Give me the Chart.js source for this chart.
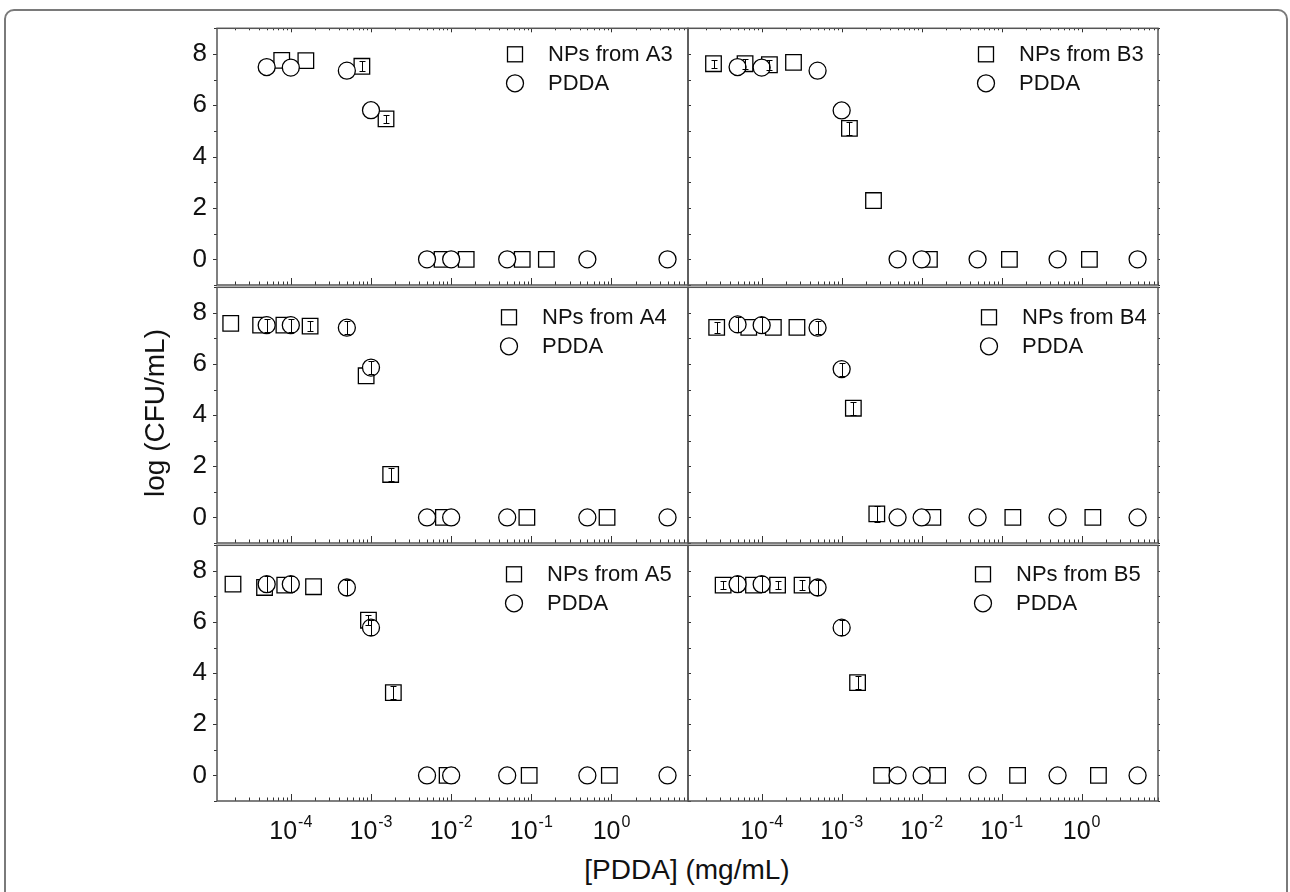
<!DOCTYPE html>
<html>
<head>
<meta charset="utf-8">
<script src="https://cdn.jsdelivr.net/npm/chart.js@4.4.1/dist/chart.umd.min.js"></script>
<style>
body{margin:0;background:#fff;width:1290px;height:892px;overflow:hidden;position:relative;font-family:"Liberation Sans",Arial,sans-serif}
#frame{position:absolute;left:4px;top:9px;width:1284px;height:900px;border:2px solid #7a7a7a;border-radius:10px;box-sizing:border-box}
canvas{position:absolute}
.ttl{position:absolute;font-size:28px;color:#111;white-space:nowrap;line-height:1}
#ytitle{left:155px;top:413px;transform:translate(-50%,-50%) rotate(-90deg)}
#xtitle{left:687px;top:870px;transform:translate(-50%,-50%)}
</style>
</head>
<body>
<div id="frame"></div>
<div id="wrap"></div>
<div class="ttl" id="ytitle">log (CFU/mL)</div>
<div class="ttl" id="xtitle">[PDDA] (mg/mL)</div>
<script>
// axis ranges / ticks
var xMin = 1.2e-5, xMax = 9;
var yMin = -1, yMax = 9;
var yTicks = [0, 2, 4, 6, 8];
var xDecades = [-4, -3, -2, -1, 0];

// PDDA alone (circles), same concentrations in every panel
var pddaX = [5e-5, 1e-4, 5e-4, 1e-3, 5e-3, 1e-2, 5e-2, 5e-1, 5];

// NPs from A3
var a3X = [7.7e-5, 1.54e-4, 7.7e-4, 1.54e-3, 7.7e-3, 1.54e-2, 7.7e-2, 1.54e-1];
var a3Y = [7.75, 7.74, 7.52, 5.47, 0, 0, 0, 0];
var a3Err = [0, 0, 0.2, 0.15, 0, 0, 0, 0];
var a3PddaY = [7.49, 7.47, 7.35, 5.81, 0, 0, 0, 0, 0];
var a3PddaErr = [0, 0, 0, 0, 0, 0, 0, 0, 0];

// NPs from B3
var b3X = [2.5e-5, 6.2e-5, 1.25e-4, 2.5e-4, 1.25e-3, 2.5e-3, 1.25e-2, 1.25e-1, 1.25];
var b3Y = [7.62, 7.62, 7.58, 7.67, 5.10, 2.29, 0, 0, 0];
var b3Err = [0.15, 0.2, 0.2, 0, 0.25, 0, 0, 0, 0];
var b3PddaY = [7.49, 7.47, 7.35, 5.80, 0, 0, 0, 0, 0];
var b3PddaErr = [0, 0, 0, 0, 0, 0, 0, 0, 0];

// NPs from A4
var a4X = [1.78e-5, 4.2e-5, 8.2e-5, 1.74e-4, 8.7e-4, 1.76e-3, 8.0e-3, 8.8e-2, 0.88];
var a4Y = [7.59, 7.52, 7.52, 7.48, 5.54, 1.68, 0, 0, 0];
var a4Err = [0, 0, 0, 0.2, 0, 0.25, 0, 0, 0];
var a4PddaY = [7.52, 7.52, 7.42, 5.86, 0, 0, 0, 0, 0];
var a4PddaErr = [0.25, 0.25, 0.25, 0.25, 0, 0, 0, 0, 0];

// NPs from B4
var b4X = [2.74e-5, 6.9e-5, 1.4e-4, 2.76e-4, 1.4e-3, 2.75e-3, 1.38e-2, 1.38e-1, 1.38];
var b4Y = [7.43, 7.43, 7.43, 7.43, 4.27, 0.14, 0, 0, 0];
var b4Err = [0.2, 0, 0, 0, 0.25, 0.3, 0, 0, 0];
var b4PddaY = [7.55, 7.52, 7.42, 5.80, 0, 0, 0, 0, 0];
var b4PddaErr = [0.3, 0.3, 0.25, 0.25, 0, 0, 0, 0, 0];

// NPs from A5
var a5X = [1.9e-5, 4.7e-5, 8.4e-5, 1.92e-4, 9.3e-4, 1.9e-3, 8.9e-3, 9.4e-2, 0.94];
var a5Y = [7.48, 7.35, 7.44, 7.38, 6.07, 3.24, 0, 0, 0];
var a5Err = [0, 0, 0, 0, 0.2, 0.25, 0, 0, 0];
var a5PddaY = [7.48, 7.48, 7.35, 5.78, 0, 0, 0, 0, 0];
var a5PddaErr = [0.3, 0.3, 0.3, 0.3, 0, 0, 0, 0, 0];

// NPs from B5
var b5X = [3.3e-5, 7.9e-5, 1.58e-4, 3.2e-4, 1.58e-3, 3.16e-3, 1.58e-2, 0.158, 1.62];
var b5Y = [7.44, 7.44, 7.44, 7.44, 3.63, 0, 0, 0, 0];
var b5Err = [0.15, 0, 0.15, 0.2, 0.25, 0, 0, 0, 0];
var b5PddaY = [7.48, 7.48, 7.35, 5.78, 0, 0, 0, 0, 0];
var b5PddaErr = [0.3, 0.3, 0.3, 0.3, 0, 0, 0, 0, 0];

var FONT = '"Liberation Sans", Arial, sans-serif';

// panel grid (page px)
var cols = [{left: 217, w: 471}, {left: 688, w: 470}];
var rows = [{top: 26, h: 259}, {top: 285, h: 258}, {top: 543, h: 258}];

var panels = [
  {name: 'A3', row: 0, col: 0, x: a3X, y: a3Y, err: a3Err, py: a3PddaY, perr: a3PddaErr, lx: 298, ly: 26},
  {name: 'B3', row: 0, col: 1, x: b3X, y: b3Y, err: b3Err, py: b3PddaY, perr: b3PddaErr, lx: 298, ly: 26},
  {name: 'A4', row: 1, col: 0, x: a4X, y: a4Y, err: a4Err, py: a4PddaY, perr: a4PddaErr, lx: 292, ly: 30},
  {name: 'B4', row: 1, col: 1, x: b4X, y: b4Y, err: b4Err, py: b4PddaY, perr: b4PddaErr, lx: 301, ly: 30},
  {name: 'A5', row: 2, col: 0, x: a5X, y: a5Y, err: a5Err, py: a5PddaY, perr: a5PddaErr, lx: 297, ly: 29},
  {name: 'B5', row: 2, col: 1, x: b5X, y: b5Y, err: b5Err, py: b5PddaY, perr: b5PddaErr, lx: 295, ly: 29}
];

function pts(xs, ys) {
  return xs.map(function (v, i) { return {x: v, y: ys[i]}; });
}

function line(ctx, x1, y1, x2, y2) {
  ctx.beginPath();
  ctx.moveTo(x1, y1);
  ctx.lineTo(x2, y2);
  ctx.stroke();
}

var panelDeco = {
  id: 'panelDeco',
  afterDatasetsDraw: function (chart) {
    var ctx = chart.ctx, xs = chart.scales.x, ys = chart.scales.y;
    ctx.save();
    ctx.strokeStyle = '#000';
    ctx.lineWidth = 1;
    chart.data.datasets.forEach(function (ds) {
      (ds.err || []).forEach(function (e, i) {
        if (!e) return;
        var p = ds.data[i];
        var px = Math.round(xs.getPixelForValue(p.x)) + 0.5;
        var y1 = Math.round(ys.getPixelForValue(p.y + e)) + 0.5;
        var y2 = Math.round(ys.getPixelForValue(p.y - e)) + 0.5;
        line(ctx, px, y1, px, y2);
        line(ctx, px - 3, y1, px + 3, y1);
        line(ctx, px - 3, y2, px + 3, y2);
      });
    });
    ctx.restore();
  },
  afterDraw: function (chart, args, opts) {
    var ctx = chart.ctx, a = chart.chartArea, xs = chart.scales.x, ys = chart.scales.y;
    ctx.save();
    // ticks
    ctx.strokeStyle = '#333';
    ctx.lineWidth = 1;
    for (var e = Math.floor(Math.log10(xMin)); e <= Math.ceil(Math.log10(xMax)); e++) {
      for (var m = 1; m <= 9; m++) {
        var v = m * Math.pow(10, e);
        if (v < xMin || v > xMax) continue;
        var px = Math.round(xs.getPixelForValue(v)) + 0.5;
        line(ctx, px, a.bottom, px, a.bottom - (m === 1 ? 7 : 3.5));
        if (opts.topTicks) line(ctx, px, a.top, px, a.top + (m === 1 ? 4 : 2));
      }
    }
    for (var t = yMin; t <= yMax; t++) {
      var py = Math.round(ys.getPixelForValue(t)) + 0.5;
      if (opts.left) {
        line(ctx, a.left, py, a.left - (t % 2 === 0 ? 4 : 3), py);
      } else {
        line(ctx, a.left, py, a.left + 3, py);
        line(ctx, a.right, py, a.right + 2, py);
      }
    }
    // frame
    ctx.strokeStyle = '#555';
    ctx.lineWidth = 1.5;
    ctx.strokeRect(a.left, a.top, a.right - a.left, a.bottom - a.top);

    // legend
    var lx = a.left + opts.lx, ly = a.top + opts.ly;
    ctx.strokeStyle = '#000';
    ctx.lineWidth = 1.3;
    ctx.strokeRect(lx - 7.5, ly - 7.5, 15, 15);
    ctx.beginPath();
    ctx.arc(lx, ly + 29, 8.5, 0, Math.PI * 2);
    ctx.stroke();
    ctx.fillStyle = '#111';
    ctx.font = '22px ' + FONT;
    ctx.textBaseline = 'middle';
    ctx.textAlign = 'left';
    ctx.fillText('NPs from ' + opts.name, lx + 33, ly + 1);
    ctx.fillText('PDDA', lx + 33, ly + 30);

    // x tick labels 10^n
    if (opts.xLabels) {
      ctx.textBaseline = 'alphabetic';
      xDecades.forEach(function (d) {
        var cx = xs.getPixelForValue(Math.pow(10, d));
        ctx.font = '25px ' + FONT;
        var w1 = ctx.measureText('10').width;
        ctx.font = '16px ' + FONT;
        var w2 = ctx.measureText(String(d)).width;
        var x0 = cx - (w1 + w2 + 1) / 2;
        ctx.font = '25px ' + FONT;
        ctx.fillText('10', x0, a.bottom + 38);
        ctx.font = '16px ' + FONT;
        ctx.fillText(String(d), x0 + w1 + 1, a.bottom + 26);
      });
    }
    ctx.restore();
  }
};

var wrap = document.getElementById('wrap');
panels.forEach(function (p) {
  var col = cols[p.col], row = rows[p.row];
  var isLeft = p.col === 0;
  var cv = document.createElement('canvas');
  var W = 60 + col.w + 20, H = 10 + row.h + 50;
  cv.width = W; cv.height = H;
  cv.style.left = (col.left - 60) + 'px';
  cv.style.top = (row.top - 10) + 'px';
  cv.style.width = W + 'px';
  cv.style.height = H + 'px';
  wrap.appendChild(cv);

  new Chart(cv, {
    type: 'scatter',
    data: {
      datasets: [
        {
          label: 'NPs from ' + p.name,
          data: pts(p.x, p.y),
          err: p.err,
          pointStyle: 'rect',
          pointRadius: 11,
          borderColor: '#000',
          backgroundColor: '#fff',
          borderWidth: 1.3,
          order: 1
        },
        {
          label: 'PDDA',
          data: pts(pddaX, p.py),
          err: p.perr,
          pointStyle: 'circle',
          pointRadius: 8.5,
          borderColor: '#000',
          backgroundColor: '#fff',
          borderWidth: 1.3,
          order: 0
        }
      ]
    },
    options: {
      responsive: false,
      animation: false,
      devicePixelRatio: 1,
      events: [],
      layout: {padding: {left: 0, top: 10, right: 20, bottom: 50}},
      scales: {
        x: {type: 'logarithmic', min: xMin, max: xMax, display: false},
        y: {
          type: 'linear', min: yMin, max: yMax, display: isLeft, position: 'left',
          afterBuildTicks: function (s) { s.ticks = yTicks.map(function (v) { return {value: v}; }); },
          afterFit: function (s) { s.width = 60; s.paddingTop = 0; s.paddingBottom = 0; },
          grid: {display: false, drawTicks: false},
          border: {display: false},
          ticks: {font: {family: FONT, size: 26}, color: '#111', padding: 10}
        }
      },
      plugins: {
        legend: {display: false},
        tooltip: {enabled: false},
        panelDeco: {
          name: p.name, lx: p.lx, ly: p.ly, left: isLeft,
          topTicks: p.row === 0, xLabels: p.row === 2
        }
      }
    },
    plugins: [panelDeco]
  });
});
</script>
</body>
</html>
